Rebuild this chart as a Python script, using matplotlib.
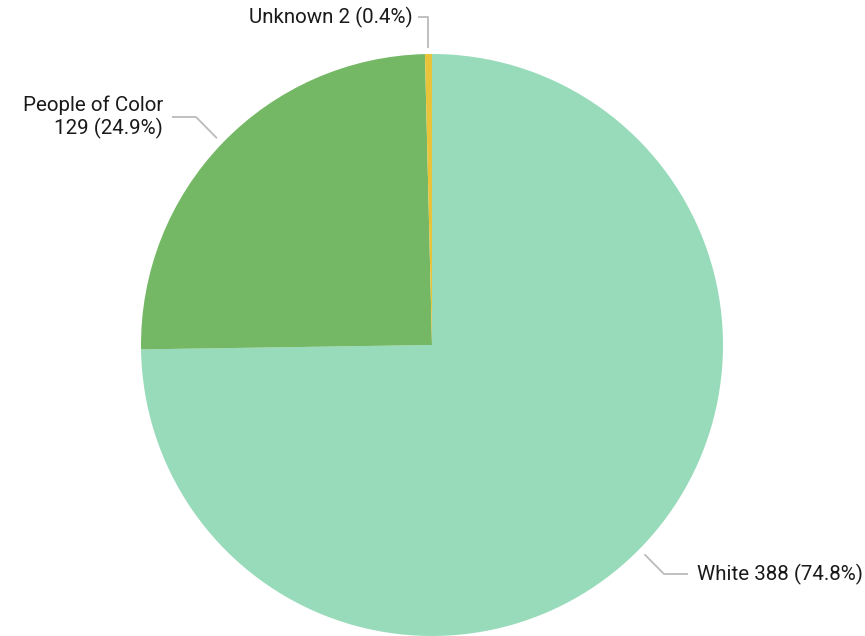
import numpy as np
import matplotlib.pyplot as plt

# Data
categories = ["White", "People of Color", "Unknown"]
counts = [388, 129, 2]
colors = ["#98dbbb", "#74b865", "#e9c43b"]

total = sum(counts)
pcts = [c / total * 100 for c in counts]

plt.rcParams['font.family'] = ['Roboto', 'DejaVu Sans']

fig = plt.figure(figsize=(8.65, 6.36), dpi=100)
ax = fig.add_axes([0, 0, 1, 1])

cx, cy, r = 432, 291, 291
wedges, _ = ax.pie(counts, colors=colors, startangle=90, counterclock=False,
                   radius=r, center=(cx, cy), frame=True,
                   wedgeprops=dict(linewidth=0))
ax.set_xlim(0, 865)
ax.set_ylim(0, 636)
ax.set_aspect('equal')
ax.axis('off')

def anchor(w, k=1.025):
    a = np.deg2rad((w.theta1 + w.theta2) / 2)
    return cx + r * k * np.cos(a), cy + r * k * np.sin(a)

line_kw = dict(color="#bbbbbb", lw=1.3, solid_capstyle='butt')
txt_kw = dict(fontsize=14.8, color="#1a1a1a")

# White label (lower right)
x0, y0 = anchor(wedges[0])
ax.plot([x0, 664, 688], [y0, 62, 62], **line_kw)
ax.text(697, 62, f"{categories[0]} {counts[0]} ({pcts[0]:.1f}%)",
        ha='left', va='center', **txt_kw)

# People of Color label (upper left)
x1, y1 = anchor(wedges[1])
ax.plot([x1, 196, 172], [y1, 519, 519], **line_kw)
ax.text(163, 519, f"{categories[1]}\n{counts[1]} ({pcts[1]:.1f}%)",
        ha='right', va='center', multialignment='right',
        linespacing=1.2, **txt_kw)

# Unknown label (top)
x2, y2 = anchor(wedges[2], 1.02)
ax.plot([x2, x2, 418], [y2, 619, 619], **line_kw)
ax.text(413, 619, f"{categories[2]} {counts[2]} ({pcts[2]:.1f}%)",
        ha='right', va='center', **txt_kw)

fig.savefig("out.png", dpi=100)
